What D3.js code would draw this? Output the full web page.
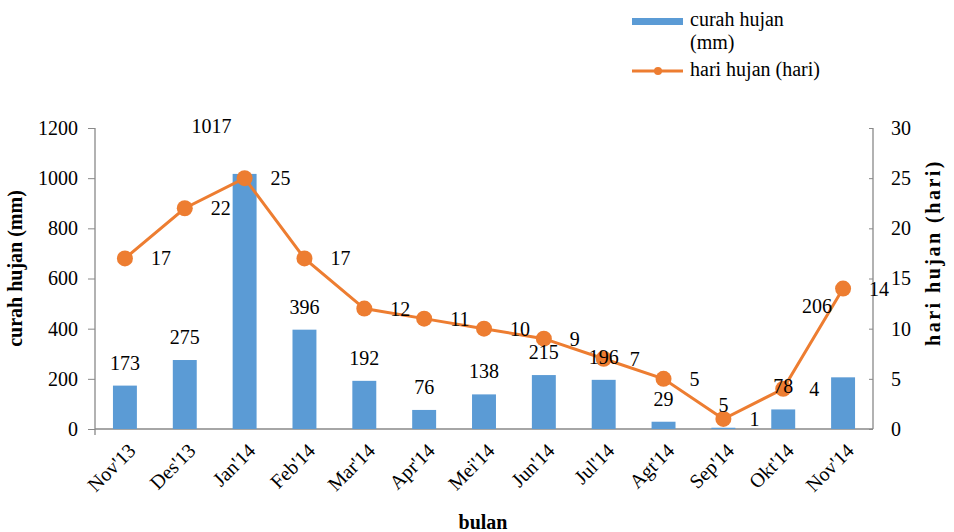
<!DOCTYPE html>
<html>
<head>
<meta charset="utf-8">
<script src="https://cdn.jsdelivr.net/npm/d3@7"></script>
<style>
  body { margin: 0; background: #fff; }
</style>
</head>
<body>
<div class="chart"></div>
<script>
// data
var months = ["Nov'13", "Des'13", "Jan'14", "Feb'14", "Mar'14", "Apr'14", "Mei'14",
  "Jun'14", "Jul'14", "Agt'14", "Sep'14", "Okt'14", "Nov'14"];
var curahHujan = [173, 275, 1017, 396, 192, 76, 138, 215, 196, 29, 5, 78, 206];
var hariHujan = [17, 22, 25, 17, 12, 11, 10, 9, 7, 5, 1, 4, 14];
var leftTicks = [0, 200, 400, 600, 800, 1000, 1200];
var rightTicks = [0, 5, 10, 15, 20, 25, 30];

var margin = { top: 128, right: 81, bottom: 103, left: 95 };
var W = 954, H = 532;
var width = W - margin.left - margin.right;
var height = H - margin.top - margin.bottom;

var barColor = "#5b9bd5";
var lineColor = "#ed7d31";
var axisColor = "#898989";
var serif = "'Liberation Serif', serif";

var svg = d3
  .select(".chart")
  .append("svg")
  .attr("width", W)
  .attr("height", H);

var g = svg
  .append("g")
  .attr("transform", "translate(" + margin.left + "," + margin.top + ")");

// ---------------------------//
//       SCALES               //
// ---------------------------//
var x = d3.scaleBand().domain(months).range([0, width]).paddingInner(0.6).paddingOuter(0.3);
var yL = d3.scaleLinear().domain([0, 1200]).range([height, 0]);
var yR = d3.scaleLinear().domain([0, 30]).range([height, 0]);
var cx = function (d) { return x(d) + x.bandwidth() / 2; };

// ---------------------------//
//       AXES                 //
// ---------------------------//
var axL = g
  .append("g")
  .call(d3.axisLeft(yL).tickValues(leftTicks).tickFormat(d3.format("d")).tickSize(7).tickPadding(10));
var axR = g
  .append("g")
  .attr("transform", "translate(" + width + ",0)")
  .call(d3.axisRight(yR).tickValues(rightTicks).tickSize(-4).tickPadding(18));
var axB = g
  .append("g")
  .attr("transform", "translate(0," + height + ")")
  .call(d3.axisBottom(x).tickSize(0).tickPadding(0));

[axL, axR, axB].forEach(function (a) {
  a.attr("font-family", null).attr("font-size", null);
  a.selectAll(".domain").attr("stroke", axisColor).attr("stroke-width", 1.3);
  a.selectAll(".tick line").attr("stroke", axisColor);
  a.selectAll(".tick text").attr("fill", "#000");
});
axL.select(".domain").attr("d", "M0,0V" + height);
axR.select(".domain").attr("d", "M0,0V" + height);
axB.select(".domain").attr("d", "M0,0H" + width + "M0,0V6");

axB
  .selectAll(".tick text")
  .attr("text-anchor", "end")
  .attr("dy", "0.35em")
  .attr("transform", "translate(7,18) rotate(-45)");

// axis titles
g.append("text")
  .attr("transform", "translate(-73," + (height / 2 - 10) + ") rotate(-90)")
  .attr("text-anchor", "middle")
  .style("font-weight", "bold")
  .text("curah hujan (mm)");

g.append("text")
  .attr("class", "rtitle")
  .attr("transform", "translate(" + (width + 67) + "," + (height / 2 - 26) + ") rotate(-90)")
  .attr("text-anchor", "middle")
  .style("font-weight", "bold")
  .text("hari hujan (hari)");

g.append("text")
  .attr("x", 388)
  .attr("y", height + 100)
  .attr("text-anchor", "middle")
  .style("font-weight", "bold")
  .text("bulan");

// ---------------------------//
//       BARS                 //
// ---------------------------//
g.append("g")
  .selectAll("rect")
  .data(curahHujan)
  .enter()
  .append("rect")
  .attr("x", function (d, i) { return x(months[i]); })
  .attr("y", function (d) { return yL(d); })
  .attr("width", x.bandwidth())
  .attr("height", function (d) { return height - yL(d); })
  .attr("fill", barColor);

// ---------------------------//
//       LINE                 //
// ---------------------------//
var line = d3
  .line()
  .x(function (d, i) { return cx(months[i]); })
  .y(function (d) { return yR(d); });

g.append("path")
  .datum(hariHujan)
  .attr("d", line)
  .attr("fill", "none")
  .attr("stroke", lineColor)
  .attr("stroke-width", 3);

g.append("g")
  .selectAll("circle")
  .data(hariHujan)
  .enter()
  .append("circle")
  .attr("cx", function (d, i) { return cx(months[i]); })
  .attr("cy", function (d) { return yR(d); })
  .attr("r", 8)
  .attr("fill", lineColor);

// ---------------------------//
//       LABELS               //
// ---------------------------//
// excel moved a couple of the bar labels, nudge those
var barNudge = { 2: [-33, -25], 12: [-26, -48] };

g.append("g")
  .selectAll("text")
  .data(curahHujan)
  .enter()
  .append("text")
  .attr("x", function (d, i) { return cx(months[i]) + (barNudge[i] ? barNudge[i][0] : 0); })
  .attr("y", function (d, i) { return yL(d) - 16 + (barNudge[i] ? barNudge[i][1] : 0); })
  .attr("text-anchor", "middle")
  .text(function (d) { return d; });

g.append("g")
  .selectAll("text")
  .data(hariHujan)
  .enter()
  .append("text")
  .attr("x", function (d, i) { return cx(months[i]) + 26; })
  .attr("y", function (d) { return yR(d) + 7; })
  .text(function (d) { return d; });

// ---------------------------//
//       LEGEND               //
// ---------------------------//
var leg = svg.append("g").attr("transform", "translate(632,0)");
leg.append("rect").attr("x", 0).attr("y", 18).attr("width", 51).attr("height", 7).attr("fill", barColor);
leg.append("text").attr("x", 58).attr("y", 26).text("curah hujan");
leg.append("text").attr("x", 58).attr("y", 49).text("(mm)");
leg.append("line")
  .attr("x1", 0).attr("x2", 51).attr("y1", 71).attr("y2", 71)
  .attr("stroke", lineColor).attr("stroke-width", 3);
leg.append("circle").attr("cx", 26).attr("cy", 71).attr("r", 4).attr("fill", lineColor);
leg.append("text").attr("x", 58).attr("y", 76).text("hari hujan (hari)");

// same serif face and size on every text
svg
  .selectAll("text")
  .style("font-family", serif)
  .style("font-size", "20px")
  .style("fill", "#000");
svg.select(".rtitle").style("letter-spacing", "2.5px");
</script>
</body>
</html>
